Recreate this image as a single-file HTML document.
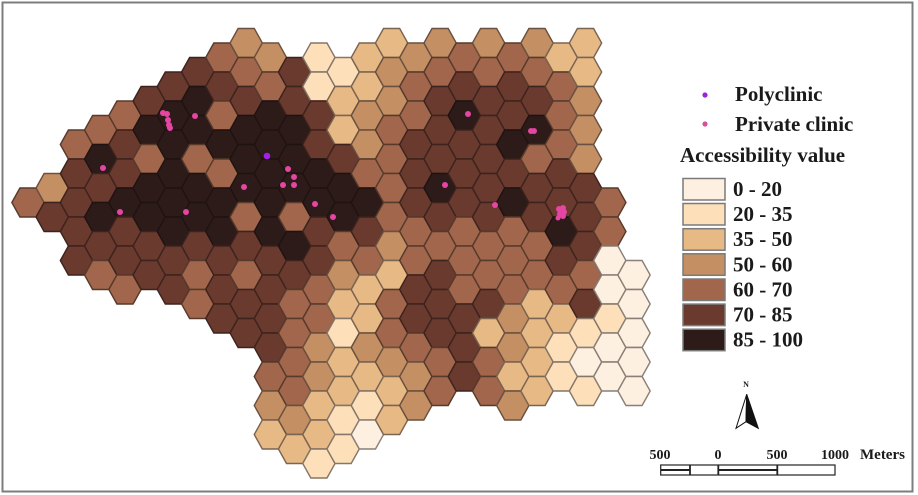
<!DOCTYPE html>
<html><head><meta charset="utf-8"><style>
html,body{margin:0;padding:0;background:#fff;}
svg{display:block;}
.k0{fill:#fdf0e1;stroke:#8a7f77}
.k1{fill:#fde0b9;stroke:#857669}
.k2{fill:#e7b984;stroke:#7a6452}
.k3{fill:#c48f62;stroke:#6a5040}
.k4{fill:#a1664b;stroke:#573a2c}
.k5{fill:#6a3a2e;stroke:#3d231d}
.k6{fill:#2d1b1a;stroke:#1f1311}
use{stroke-width:1.4}
.p{fill:#e545a3}
.t{font-family:"Liberation Serif",serif;font-weight:bold;fill:#1a1a1a}
</style></head><body>
<svg width="918" height="495" viewBox="0 0 918 495" xmlns="http://www.w3.org/2000/svg" xmlns:xlink="http://www.w3.org/1999/xlink">
<defs><polygon id="h" points="-16.16,0 -8.08,-14.5 8.08,-14.5 16.16,0 8.08,14.5 -8.08,14.5"/></defs>
<rect x="0" y="0" width="918" height="495" fill="#fff"/>
<rect x="2.5" y="2.5" width="910" height="489" fill="none" stroke="#7d7d7d" stroke-width="2"/>

<g transform="translate(28 0)"><use href="#h" y="202.5" class="k4"/></g>
<g transform="translate(52.2 0)"><use href="#h" y="188" class="k3"/><use href="#h" y="217" class="k5"/></g>
<g transform="translate(76.5 0)"><use href="#h" y="144.5" class="k4"/><use href="#h" y="173.5" class="k5"/><use href="#h" y="202.5" class="k5"/><use href="#h" y="231.5" class="k5"/><use href="#h" y="260.5" class="k5"/></g>
<g transform="translate(100.7 0)"><use href="#h" y="130" class="k4"/><use href="#h" y="159" class="k6"/><use href="#h" y="188" class="k5"/><use href="#h" y="217" class="k6"/><use href="#h" y="246" class="k5"/><use href="#h" y="275" class="k4"/></g>
<g transform="translate(125 0)"><use href="#h" y="115.5" class="k4"/><use href="#h" y="144.5" class="k5"/><use href="#h" y="173.5" class="k5"/><use href="#h" y="202.5" class="k6"/><use href="#h" y="231.5" class="k5"/><use href="#h" y="260.5" class="k5"/><use href="#h" y="289.5" class="k4"/></g>
<g transform="translate(149.2 0)"><use href="#h" y="101" class="k5"/><use href="#h" y="130" class="k6"/><use href="#h" y="159" class="k4"/><use href="#h" y="188" class="k6"/><use href="#h" y="217" class="k6"/><use href="#h" y="246" class="k5"/><use href="#h" y="275" class="k5"/></g>
<g transform="translate(173.4 0)"><use href="#h" y="86.5" class="k5"/><use href="#h" y="115.5" class="k6"/><use href="#h" y="144.5" class="k6"/><use href="#h" y="173.5" class="k6"/><use href="#h" y="202.5" class="k6"/><use href="#h" y="231.5" class="k6"/><use href="#h" y="260.5" class="k5"/><use href="#h" y="289.5" class="k5"/></g>
<g transform="translate(197.7 0)"><use href="#h" y="72" class="k5"/><use href="#h" y="101" class="k6"/><use href="#h" y="130" class="k6"/><use href="#h" y="159" class="k4"/><use href="#h" y="188" class="k6"/><use href="#h" y="217" class="k6"/><use href="#h" y="246" class="k5"/><use href="#h" y="275" class="k4"/><use href="#h" y="304" class="k4"/></g>
<g transform="translate(221.9 0)"><use href="#h" y="57.5" class="k4"/><use href="#h" y="86.5" class="k5"/><use href="#h" y="115.5" class="k4"/><use href="#h" y="144.5" class="k6"/><use href="#h" y="173.5" class="k4"/><use href="#h" y="202.5" class="k6"/><use href="#h" y="231.5" class="k6"/><use href="#h" y="260.5" class="k5"/><use href="#h" y="289.5" class="k5"/><use href="#h" y="318.5" class="k5"/></g>
<g transform="translate(246.2 0)"><use href="#h" y="43" class="k3"/><use href="#h" y="72" class="k4"/><use href="#h" y="101" class="k5"/><use href="#h" y="130" class="k6"/><use href="#h" y="159" class="k6"/><use href="#h" y="188" class="k6"/><use href="#h" y="217" class="k4"/><use href="#h" y="246" class="k5"/><use href="#h" y="275" class="k4"/><use href="#h" y="304" class="k5"/><use href="#h" y="333" class="k5"/></g>
<g transform="translate(270.4 0)"><use href="#h" y="57.5" class="k3"/><use href="#h" y="86.5" class="k4"/><use href="#h" y="115.5" class="k6"/><use href="#h" y="144.5" class="k6"/><use href="#h" y="173.5" class="k6"/><use href="#h" y="202.5" class="k6"/><use href="#h" y="231.5" class="k6"/><use href="#h" y="260.5" class="k5"/><use href="#h" y="289.5" class="k5"/><use href="#h" y="318.5" class="k5"/><use href="#h" y="347.5" class="k5"/><use href="#h" y="376.5" class="k4"/><use href="#h" y="405.5" class="k3"/><use href="#h" y="434.5" class="k2"/></g>
<g transform="translate(294.6 0)"><use href="#h" y="72" class="k5"/><use href="#h" y="101" class="k5"/><use href="#h" y="130" class="k6"/><use href="#h" y="159" class="k6"/><use href="#h" y="188" class="k6"/><use href="#h" y="217" class="k4"/><use href="#h" y="246" class="k6"/><use href="#h" y="275" class="k5"/><use href="#h" y="304" class="k4"/><use href="#h" y="333" class="k4"/><use href="#h" y="362" class="k4"/><use href="#h" y="391" class="k4"/><use href="#h" y="420" class="k3"/><use href="#h" y="449" class="k2"/></g>
<g transform="translate(318.9 0)"><use href="#h" y="57.5" class="k1"/><use href="#h" y="86.5" class="k1"/><use href="#h" y="115.5" class="k5"/><use href="#h" y="144.5" class="k5"/><use href="#h" y="173.5" class="k6"/><use href="#h" y="202.5" class="k6"/><use href="#h" y="231.5" class="k5"/><use href="#h" y="260.5" class="k5"/><use href="#h" y="289.5" class="k4"/><use href="#h" y="318.5" class="k4"/><use href="#h" y="347.5" class="k3"/><use href="#h" y="376.5" class="k3"/><use href="#h" y="405.5" class="k2"/><use href="#h" y="434.5" class="k2"/><use href="#h" y="463.5" class="k1"/></g>
<g transform="translate(343.1 0)"><use href="#h" y="72" class="k1"/><use href="#h" y="101" class="k2"/><use href="#h" y="130" class="k2"/><use href="#h" y="159" class="k5"/><use href="#h" y="188" class="k6"/><use href="#h" y="217" class="k6"/><use href="#h" y="246" class="k4"/><use href="#h" y="275" class="k3"/><use href="#h" y="304" class="k2"/><use href="#h" y="333" class="k1"/><use href="#h" y="362" class="k2"/><use href="#h" y="391" class="k2"/><use href="#h" y="420" class="k1"/><use href="#h" y="449" class="k1"/></g>
<g transform="translate(367.4 0)"><use href="#h" y="57.5" class="k2"/><use href="#h" y="86.5" class="k2"/><use href="#h" y="115.5" class="k3"/><use href="#h" y="144.5" class="k3"/><use href="#h" y="173.5" class="k4"/><use href="#h" y="202.5" class="k6"/><use href="#h" y="231.5" class="k5"/><use href="#h" y="260.5" class="k4"/><use href="#h" y="289.5" class="k2"/><use href="#h" y="318.5" class="k2"/><use href="#h" y="347.5" class="k3"/><use href="#h" y="376.5" class="k2"/><use href="#h" y="405.5" class="k1"/><use href="#h" y="434.5" class="k0"/></g>
<g transform="translate(391.6 0)"><use href="#h" y="43" class="k2"/><use href="#h" y="72" class="k3"/><use href="#h" y="101" class="k3"/><use href="#h" y="130" class="k4"/><use href="#h" y="159" class="k4"/><use href="#h" y="188" class="k4"/><use href="#h" y="217" class="k4"/><use href="#h" y="246" class="k3"/><use href="#h" y="275" class="k2"/><use href="#h" y="304" class="k4"/><use href="#h" y="333" class="k4"/><use href="#h" y="362" class="k3"/><use href="#h" y="391" class="k2"/><use href="#h" y="420" class="k2"/></g>
<g transform="translate(415.8 0)"><use href="#h" y="57.5" class="k3"/><use href="#h" y="86.5" class="k4"/><use href="#h" y="115.5" class="k4"/><use href="#h" y="144.5" class="k5"/><use href="#h" y="173.5" class="k5"/><use href="#h" y="202.5" class="k5"/><use href="#h" y="231.5" class="k4"/><use href="#h" y="260.5" class="k4"/><use href="#h" y="289.5" class="k5"/><use href="#h" y="318.5" class="k5"/><use href="#h" y="347.5" class="k4"/><use href="#h" y="376.5" class="k3"/><use href="#h" y="405.5" class="k3"/></g>
<g transform="translate(440.1 0)"><use href="#h" y="43" class="k3"/><use href="#h" y="72" class="k4"/><use href="#h" y="101" class="k5"/><use href="#h" y="130" class="k5"/><use href="#h" y="159" class="k5"/><use href="#h" y="188" class="k6"/><use href="#h" y="217" class="k5"/><use href="#h" y="246" class="k4"/><use href="#h" y="275" class="k5"/><use href="#h" y="304" class="k5"/><use href="#h" y="333" class="k5"/><use href="#h" y="362" class="k4"/><use href="#h" y="391" class="k4"/></g>
<g transform="translate(464.3 0)"><use href="#h" y="57.5" class="k4"/><use href="#h" y="86.5" class="k5"/><use href="#h" y="115.5" class="k6"/><use href="#h" y="144.5" class="k5"/><use href="#h" y="173.5" class="k5"/><use href="#h" y="202.5" class="k5"/><use href="#h" y="231.5" class="k4"/><use href="#h" y="260.5" class="k4"/><use href="#h" y="289.5" class="k4"/><use href="#h" y="318.5" class="k5"/><use href="#h" y="347.5" class="k5"/><use href="#h" y="376.5" class="k5"/></g>
<g transform="translate(488.6 0)"><use href="#h" y="43" class="k3"/><use href="#h" y="72" class="k4"/><use href="#h" y="101" class="k5"/><use href="#h" y="130" class="k5"/><use href="#h" y="159" class="k5"/><use href="#h" y="188" class="k5"/><use href="#h" y="217" class="k5"/><use href="#h" y="246" class="k4"/><use href="#h" y="275" class="k4"/><use href="#h" y="304" class="k5"/><use href="#h" y="333" class="k2"/><use href="#h" y="362" class="k4"/><use href="#h" y="391" class="k4"/></g>
<g transform="translate(512.8 0)"><use href="#h" y="57.5" class="k4"/><use href="#h" y="86.5" class="k5"/><use href="#h" y="115.5" class="k5"/><use href="#h" y="144.5" class="k6"/><use href="#h" y="173.5" class="k5"/><use href="#h" y="202.5" class="k6"/><use href="#h" y="231.5" class="k4"/><use href="#h" y="260.5" class="k4"/><use href="#h" y="289.5" class="k4"/><use href="#h" y="318.5" class="k3"/><use href="#h" y="347.5" class="k3"/><use href="#h" y="376.5" class="k2"/><use href="#h" y="405.5" class="k3"/></g>
<g transform="translate(537 0)"><use href="#h" y="43" class="k3"/><use href="#h" y="72" class="k4"/><use href="#h" y="101" class="k5"/><use href="#h" y="130" class="k6"/><use href="#h" y="159" class="k4"/><use href="#h" y="188" class="k5"/><use href="#h" y="217" class="k5"/><use href="#h" y="246" class="k4"/><use href="#h" y="275" class="k4"/><use href="#h" y="304" class="k2"/><use href="#h" y="333" class="k2"/><use href="#h" y="362" class="k2"/><use href="#h" y="391" class="k2"/></g>
<g transform="translate(561.3 0)"><use href="#h" y="57.5" class="k2"/><use href="#h" y="86.5" class="k4"/><use href="#h" y="115.5" class="k4"/><use href="#h" y="144.5" class="k4"/><use href="#h" y="173.5" class="k5"/><use href="#h" y="202.5" class="k5"/><use href="#h" y="231.5" class="k6"/><use href="#h" y="260.5" class="k5"/><use href="#h" y="289.5" class="k4"/><use href="#h" y="318.5" class="k2"/><use href="#h" y="347.5" class="k1"/><use href="#h" y="376.5" class="k1"/></g>
<g transform="translate(585.5 0)"><use href="#h" y="43" class="k2"/><use href="#h" y="72" class="k2"/><use href="#h" y="101" class="k3"/><use href="#h" y="130" class="k3"/><use href="#h" y="159" class="k3"/><use href="#h" y="188" class="k5"/><use href="#h" y="217" class="k5"/><use href="#h" y="246" class="k5"/><use href="#h" y="275" class="k4"/><use href="#h" y="304" class="k5"/><use href="#h" y="333" class="k1"/><use href="#h" y="362" class="k0"/><use href="#h" y="391" class="k1"/></g>
<g transform="translate(609.8 0)"><use href="#h" y="202.5" class="k4"/><use href="#h" y="231.5" class="k4"/><use href="#h" y="260.5" class="k0"/><use href="#h" y="289.5" class="k0"/><use href="#h" y="318.5" class="k1"/><use href="#h" y="347.5" class="k0"/><use href="#h" y="376.5" class="k0"/></g>
<g transform="translate(634 0)"><use href="#h" y="275" class="k0"/><use href="#h" y="304" class="k0"/><use href="#h" y="333" class="k0"/><use href="#h" y="362" class="k0"/><use href="#h" y="391" class="k0"/></g>

<!-- clinics -->
<g class="p">
<circle cx="163" cy="113" r="3"/><circle cx="167" cy="114" r="3"/><circle cx="168" cy="120" r="3"/><circle cx="169" cy="125" r="3"/><circle cx="170" cy="128" r="3"/>
<circle cx="195" cy="116" r="3"/>
<circle cx="103" cy="168" r="3"/>
<circle cx="120" cy="212" r="3"/>
<circle cx="186" cy="212" r="3"/>
<circle cx="244" cy="187" r="3"/>
<circle cx="288" cy="169" r="3"/><circle cx="294" cy="177" r="3"/><circle cx="283" cy="185" r="3"/><circle cx="294" cy="185" r="3"/>
<circle cx="315" cy="204" r="3"/>
<circle cx="333" cy="217" r="3"/>
<circle cx="468" cy="114" r="3"/>
<circle cx="531" cy="131" r="3"/><circle cx="534" cy="131" r="3"/>
<circle cx="445" cy="185" r="3"/>
<circle cx="495" cy="205" r="3"/>
<circle cx="559" cy="209" r="3"/><circle cx="563" cy="208" r="3"/><circle cx="564" cy="212" r="3"/><circle cx="560" cy="214" r="3"/><circle cx="563" cy="216" r="3"/><circle cx="558" cy="218" r="2.5"/>
</g>
<circle cx="267" cy="156" r="3.3" fill="#a221e6"/>

<!-- legend -->
<circle cx="705" cy="95" r="2.6" fill="#9a25d8"/>
<text class="t" x="735" y="101" font-size="21">Polyclinic</text>
<circle cx="705" cy="124" r="2.6" fill="#d9509a"/>
<text class="t" x="735" y="131" font-size="21">Private clinic</text>
<text class="t" x="680" y="162" font-size="21">Accessibility value</text>
<g stroke="#7a7a7a" stroke-width="1.5">
<rect x="683" y="178.5" width="42" height="21.5" fill="#fdf0e1"/>
<rect x="683" y="203.5" width="42" height="21.5" fill="#fde0b9"/>
<rect x="683" y="228.7" width="42" height="21.5" fill="#e7b984"/>
<rect x="683" y="253.8" width="42" height="21.5" fill="#c48f62"/>
<rect x="683" y="279" width="42" height="21.5" fill="#a1664b"/>
<rect x="683" y="304.1" width="42" height="21.5" fill="#6a3a2e"/>
<rect x="683" y="329.2" width="42" height="21.5" fill="#2d1b1a"/>
</g>
<g class="t" font-size="21">
<text x="733" y="196">0 - 20</text>
<text x="733" y="221">20 - 35</text>
<text x="733" y="246">35 - 50</text>
<text x="733" y="271.5">50 - 60</text>
<text x="733" y="296.5">60 - 70</text>
<text x="733" y="321.5">70 - 85</text>
<text x="733" y="346.5">85 - 100</text>
</g>

<!-- north arrow -->
<text class="t" x="746" y="387" font-size="8" text-anchor="middle">N</text>
<polygon points="746.7,394.3 736,428.3 746,421.7" fill="#fff" stroke="#111" stroke-width="1"/>
<polygon points="746.7,394.3 758.3,428.3 746,421.7" fill="#111" stroke="#111" stroke-width="1"/>

<!-- scale bar -->
<g class="t" font-size="14" text-anchor="middle">
<text x="660" y="459">500</text>
<text x="718" y="459">0</text>
<text x="777" y="459">500</text>
<text x="835" y="459">1000</text>
<text x="860" y="459" text-anchor="start" font-size="15">Meters</text>
</g>
<rect x="660.7" y="465" width="174.3" height="10" fill="#fff" stroke="#222" stroke-width="1.2"/>
<line x1="660.7" y1="470" x2="690" y2="470" stroke="#222" stroke-width="2"/>
<line x1="718.3" y1="470" x2="777.3" y2="470" stroke="#222" stroke-width="2"/>
<g stroke="#222" stroke-width="1.8">
<line x1="690" y1="465" x2="690" y2="475"/>
<line x1="718.3" y1="465" x2="718.3" y2="475"/>
<line x1="777.3" y1="465" x2="777.3" y2="475"/>
</g>
</svg>
</body></html>
